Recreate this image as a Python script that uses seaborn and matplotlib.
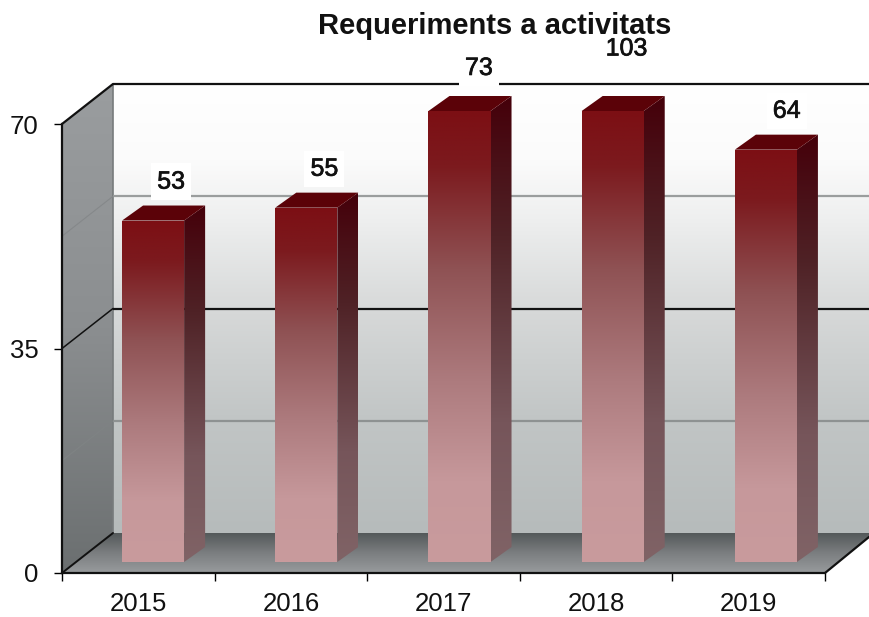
import numpy as np
import matplotlib
matplotlib.use('Agg')
import matplotlib.pyplot as plt
import matplotlib.patheffects as pe
import seaborn as sns
from matplotlib.colors import LinearSegmentedColormap
from matplotlib.patches import Polygon

# data
years = ['2015', '2016', '2017', '2018', '2019']
values = [53, 55, 73, 103, 64]
y_ticks = [0, 35, 70]
y_max = 70

# layout, in pixels of the 869x617 picture
W, H = 869, 617
DEPTH_X, DEPTH_Y = 51, 40      # back wall offset from the front axis
BAR_DX, BAR_DY = 21, 15        # depth of one bar
label_nudge = [(0, 0), (0, 0), (1, 3), (-3, 17), (2, 0)]

sns.set_style('white')
plt.rcParams['font.family'] = ['Liberation Sans', 'DejaVu Sans']


def px_axes(fig, left, top, right, bottom, **kw):
    return fig.add_axes([left / W, 1 - bottom / H, (right - left) / W, (bottom - top) / H], **kw)


def fill_gradient(ax, poly, cmap, extent, **kw):
    # vertical gradient clipped to a polygon
    grad = np.linspace(0, 1, 256).reshape(-1, 1)
    im = ax.imshow(grad, cmap=cmap, extent=extent, aspect='auto', origin='upper',
                   vmin=0, vmax=1, interpolation='bilinear', **kw)
    patch = Polygon(poly, closed=True, transform=ax.transData, fc='none', ec='none')
    ax.add_patch(patch)
    im.set_clip_path(patch)
    return im


fig = plt.figure(figsize=(W / 100, H / 100), dpi=100, facecolor='white')

# ---- walls and floor, drawn in picture pixels ----
bg = px_axes(fig, 0, 0, W, H)
bg.set_xlim(0, W)
bg.set_ylim(H, 0)
bg.axis('off')

x0, x1, y0, y1 = 62, 825, 573, 124
bx0, by0, by1 = x0 + DEPTH_X, y0 - DEPTH_Y, y1 - DEPTH_Y

wall_cmap = LinearSegmentedColormap.from_list('wall', [
    (0, '#ffffff'), (0.17, '#fbfbfb'), (0.3, '#eeefef'), (0.5, '#d7d9d9'),
    (0.75, '#c1c5c5'), (1, '#b6bbbb')])
fill_gradient(bg, [(bx0, by1), (W, by1), (W, by0), (bx0, by0)], wall_cmap, (bx0, W, by0, by1))

side_cmap = LinearSegmentedColormap.from_list('side', ['#9a9d9f', '#8b8e90', '#6b6f70'])
fill_gradient(bg, [(x0, y1), (bx0, by1), (bx0, by0), (x0, y0)], side_cmap, (x0, bx0, y0, by1))

floor_cmap = LinearSegmentedColormap.from_list('floor', ['#54595a', '#7b7e80', '#989b9d'])
fill_gradient(bg, [(bx0, by0), (W, by0), (W, by0 + 4), (x1, y0), (x0, y0)], floor_cmap, (x0, W, y0, by0))

bg.plot([bx0, bx0], [by1, by0], color='#777b7c', lw=1.2)

# grid lines follow the value axis, on the wall and on the side wall
for frac, col, side_col in [(0.25, '#8e9292', '#7f8384'), (0.5, '#111111', '#111111'), (0.75, '#9a9d9d', '#85888a')]:
    yb = by0 + (by1 - by0) * frac
    yf = y0 + (y1 - y0) * frac
    bg.plot([bx0, W], [yb, yb], color=col, lw=1.6, solid_capstyle='butt')
    bg.plot([x0, bx0], [yf, yb], color=side_col, lw=1.1 if frac == 0.5 else 0.8)

bg.plot([x0, bx0, W], [y1, by1, by1], color='#111111', lw=1.6)
bg.plot([x0, bx0], [y0, by0], color='#111111', lw=1.4)
bg.plot([x1, W], [y0, y0 - 36], color='#111111', lw=1.6)
bg.set_xlim(0, W)
bg.set_ylim(H, 0)

# ---- front axis ----
axis_ax = px_axes(fig, x0, y1, x1, y0)
axis_ax.patch.set_alpha(0)
axis_ax.set_xlim(0, len(years))
axis_ax.set_ylim(0, y_max)
axis_ax.set_yticks(y_ticks)
axis_ax.set_xticks(range(len(years) + 1))
axis_ax.set_xticks(np.arange(len(years)) + 0.5, labels=years, minor=True)
axis_ax.tick_params(axis='x', which='major', length=6, width=1, color='black', labelbottom=False, bottom=True)
axis_ax.tick_params(axis='x', which='minor', length=0, pad=14, labelsize=18.5, labelcolor='#111111')
axis_ax.tick_params(axis='y', length=6, width=1, color='black', pad=11, labelsize=18.5,
                    labelcolor='#111111', left=True)
for name, spine in axis_ax.spines.items():
    spine.set_visible(name in ('left', 'bottom'))
    spine.set_color('#111111')
    spine.set_linewidth(1.6)

# ---- bars ----
# the axes run a bit past y_max so the bar tops fit inside them
scale_y = (562 - 111) / y_max
dy = BAR_DY / scale_y
ax = px_axes(fig, 76.5, 111 - BAR_DY, 842.5, 562)
ax.patch.set_alpha(0)
sns.barplot(x=years, y=values, order=years, width=0.405, color='#7a1015', ax=ax)
ax.set_xlim(-0.5, len(years) - 0.5)
ax.set_ylim(0, y_max + dy)
ax.set_xlabel('')
ax.set_ylabel('')
ax.axis('off')

front_cmap = LinearSegmentedColormap.from_list('front', [
    (0, '#7c0f14'), (0.12, '#7c1a1e'), (0.35, '#8f5254'), (0.6, '#ad7b7e'),
    (0.82, '#c6989b'), (1, '#c99b9d')])
side_bar_cmap = LinearSegmentedColormap.from_list('side_bar', [
    (0, '#45000a'), (0.3, '#4f2226'), (0.7, '#76555a'), (1, '#806366')])

dx = BAR_DX / ((842.5 - 76.5) / len(years))
for i, bar in enumerate(ax.patches):
    left = bar.get_x()
    right = left + bar.get_width()
    top = min(bar.get_height(), y_max)
    bar.set_facecolor('none')
    bar.set_edgecolor('none')

    fill_gradient(ax, [(left, 0), (right, 0), (right, top), (left, top)], front_cmap,
                  (left, right, 0, top), zorder=3)
    fill_gradient(ax, [(right, 0), (right + dx, dy), (right + dx, top + dy), (right, top)],
                  side_bar_cmap, (right, right + dx, 0, top + dy), zorder=3)
    ax.add_patch(Polygon([(left, top), (right, top), (right + dx, top + dy), (left + dx, top + dy)],
                         closed=True, fc='#5b0208', ec='none', zorder=3))
    nx, ny = label_nudge[i]
    ax.annotate(str(values[i]), xy=((left + right) / 2, top), xytext=(13 + nx, 28 + ny),
                textcoords='offset points', ha='center', va='center', fontsize=18,
                color='#111111', annotation_clip=False, zorder=5,
                path_effects=[pe.withStroke(linewidth=0.5, foreground='#111111')],
                bbox=dict(boxstyle='square,pad=0.25', fc='white', ec='none'))
    ax.set_xlim(-0.5, len(years) - 0.5)
    ax.set_ylim(0, y_max + dy)

fig.text(495 / W, 1 - 26 / H, 'Requeriments a activitats', ha='center', va='center',
         fontsize=21, fontweight='bold', color='#111111')

fig.savefig('out.png', dpi=100, facecolor='white')
